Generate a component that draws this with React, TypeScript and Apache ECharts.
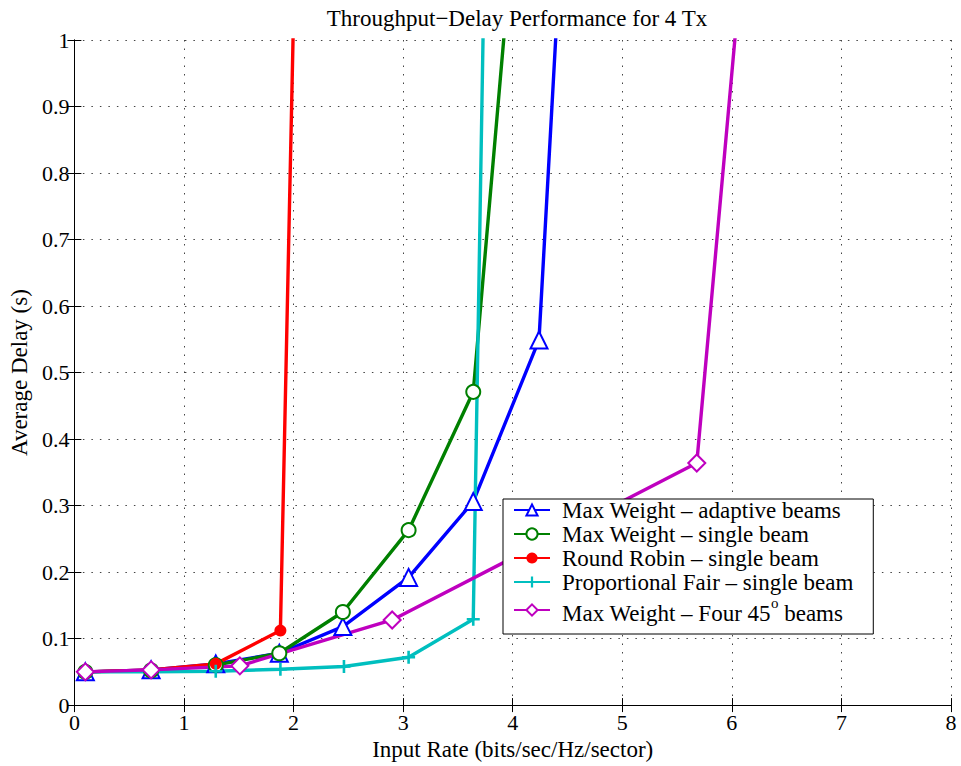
import React, { useEffect, useRef } from "react";
import * as echarts from "echarts";

const TITLE = "Throughput\u2212Delay Performance for 4 Tx";
const X_NAME = "Input Rate (bits/sec/Hz/sector)";
const Y_NAME = "Average Delay (s)";

const SERIES_NAMES = [
  "Max Weight \u2013 adaptive beams",
  "Max Weight \u2013 single beam",
  "Round Robin \u2013 single beam",
  "Proportional Fair \u2013 single beam",
  "Max Weight \u2013 Four 45o beams",
];

const mwAdaptiveX = [0.1, 0.7, 1.29, 1.87, 2.45, 3.05, 3.64, 4.24, 4.56];
const mwAdaptiveY = [0.05, 0.053, 0.062, 0.078, 0.118, 0.192, 0.306, 0.549, 1.5];

const mwSingleX = [0.1, 0.7, 1.29, 1.87, 2.45, 3.05, 3.64, 4.18];
const mwSingleY = [0.05, 0.052, 0.06, 0.078, 0.14, 0.263, 0.471, 1.5];

const rrX = [0.1, 0.7, 1.29, 1.88, 2.06];
const rrY = [0.05, 0.053, 0.062, 0.112, 1.5];

const pfX = [0.1, 0.7, 1.29, 1.88, 2.46, 3.05, 3.64, 3.78];
const pfY = [0.05, 0.05, 0.051, 0.054, 0.058, 0.072, 0.129, 1.5];

const mw45X = [0.1, 0.7, 1.51, 2.9, 5.68, 6.3];
const mw45Y = [0.05, 0.053, 0.059, 0.128, 0.364, 1.5];

const X_TICKS = [0, 1, 2, 3, 4, 5, 6, 7, 8];
const Y_TICK_STEP = 0.1;

const COLORS = ["#0000ff", "#008000", "#ff0000", "#00bfbf", "#bf00bf"];
const FONT = "Liberation Serif";

const PLUS = "path://M-1,-5 L1,-5 L1,-1 L5,-1 L5,1 L1,1 L1,5 L-1,5 L-1,1 L-5,1 L-5,-1 L-1,-1 Z";

function zip(xs: number[], ys: number[]) {
  return xs.map((x, i) => [x, ys[i]]);
}

export default function App() {
  const ref = useRef<HTMLDivElement>(null);
  useEffect(() => {
    const chart = echarts.init(ref.current!, undefined, { renderer: "svg" });
    const gridLine = { show: true, lineStyle: { color: "#444", type: [1.5, 7] as any, width: 1 } };
    const hiddenAxisCommon = {
      axisLabel: { show: false },
      splitLine: { show: false },
      axisLine: { show: true, lineStyle: { color: "#000", width: 1 } },
      axisTick: { show: true, inside: true, length: 7, lineStyle: { color: "#000" } },
    };
    const mk = (
      i: number,
      data: number[][],
      symbol: string,
      size: number,
      filled: boolean
    ) => ({
      name: SERIES_NAMES[i],
      type: "line",
      data,
      symbol,
      symbolSize: size,
      showSymbol: true,
      clip: true,
      lineStyle: { color: COLORS[i], width: 3.4 },
      itemStyle: filled
        ? { color: COLORS[i], borderColor: COLORS[i], borderWidth: 0 }
        : { color: COLORS[i], borderColor: COLORS[i], borderWidth: 2.8 },
      z: 2,
    });
    chart.setOption({
      animation: false,
      backgroundColor: "#fff",
      textStyle: { fontFamily: FONT },
      title: {
        text: TITLE,
        left: 512,
        textAlign: "center",
        top: 2,
        textStyle: { fontFamily: FONT, fontSize: 23, fontWeight: "normal", color: "#000" },
      },
      grid: { left: 71, right: 10, top: 40, bottom: 59 },
      xAxis: [
        {
          type: "value",
          min: 0,
          max: 8,
          interval: 1,
          name: X_NAME,
          nameLocation: "middle",
          nameGap: 30,
          nameTextStyle: { fontFamily: FONT, fontSize: 23, color: "#000" },
          axisLabel: {
            fontFamily: FONT,
            fontSize: 22,
            color: "#000",
            margin: 6,
            formatter: (v: number) => (X_TICKS.includes(v) ? String(v) : ""),
          },
          axisLine: { show: true, onZero: false, lineStyle: { color: "#000", width: 1 } },
          axisTick: { show: true, inside: true, length: 7, lineStyle: { color: "#000" } },
          splitLine: gridLine,
        },
        { type: "value", min: 0, max: 8, interval: 1, position: "top", ...hiddenAxisCommon },
      ],
      yAxis: [
        {
          type: "value",
          min: 0,
          max: 1,
          interval: Y_TICK_STEP,
          name: Y_NAME,
          nameLocation: "middle",
          nameGap: 39,
          nameTextStyle: { fontFamily: FONT, fontSize: 23, color: "#000" },
          axisLabel: {
            fontFamily: FONT,
            fontSize: 22,
            color: "#000",
            margin: 5,
            formatter: (v: number) => String(Math.round(v * 10) / 10),
          },
          axisLine: { show: true, onZero: false, lineStyle: { color: "#000", width: 1 } },
          axisTick: { show: true, inside: true, length: 7, lineStyle: { color: "#000" } },
          splitLine: gridLine,
        },
        { type: "value", min: 0, max: 1, interval: Y_TICK_STEP, position: "right", ...hiddenAxisCommon },
      ],
      legend: {
        orient: "vertical",
        left: 503,
        top: 499,
        data: SERIES_NAMES,
        backgroundColor: "#fff",
        borderColor: "#000",
        borderWidth: 1,
        borderRadius: 0,
        padding: [0, 20, 9, 10],
        itemGap: 1,
        itemWidth: 36,
        itemHeight: 14,
        z: 10,
        formatter: (name: string) =>
          name === SERIES_NAMES[4]
            ? "{t|Max Weight \u2013 Four 45}{s|o}{t| beams}"
            : "{t|" + name + "}",
        textStyle: {
          fontFamily: FONT,
          fontSize: 23,
          color: "#000",
          padding: [0, 0, 0, 7],
          rich: {
            t: { fontFamily: FONT, fontSize: 23, color: "#000", lineHeight: 24, verticalAlign: "bottom" },
            s: { fontFamily: FONT, fontSize: 15, color: "#000", verticalAlign: "top", padding: [0, 0, 15, 0] },
          },
        },
      },
      series: [
        mk(0, zip(mwAdaptiveX, mwAdaptiveY), "emptyTriangle", 17, false),
        mk(1, zip(mwSingleX, mwSingleY), "emptyCircle", 14, false),
        mk(2, zip(rrX, rrY), "circle", 12, true),
        mk(3, zip(pfX, pfY), PLUS, 13, true),
        mk(4, zip(mw45X, mw45Y), "emptyDiamond", 17, false),
      ],
    });
    return () => chart.dispose();
  }, []);
  return (
    <div
      ref={ref}
      style={{ position: "fixed", left: 0, top: 0, width: 961, height: 766, background: "#fff" }}
    />
  );
}
